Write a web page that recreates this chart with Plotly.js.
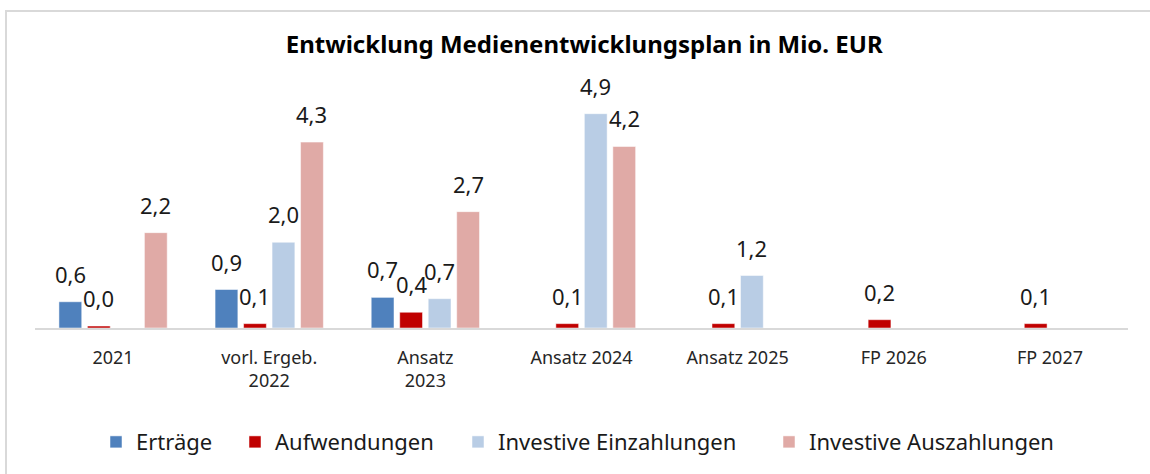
<!DOCTYPE html>
<html>
<head>
<meta charset="utf-8">
<script src="https://cdn.plot.ly/plotly-3.0.1.min.js"></script>
<style>
  html, body { margin: 0; padding: 0; background: #fff; }
  #wrap { position: relative; width: 1150px; height: 474px; overflow: hidden; }
  #chart { position: absolute; left: 0; top: 0; width: 1150px; height: 474px; }
  #frame { position: absolute; left: 5px; top: 10px; width: 1200px; height: 520px;
           border: 2px solid #d9d9d9; pointer-events: none; box-sizing: border-box; }
</style>
</head>
<body>
<div id="wrap">
  <div id="chart"></div>
  <div id="frame"></div>
</div>
<script>
const categories = ["2021", "vorl. Ergeb.<br>2022", "Ansatz<br>2023", "Ansatz 2024", "Ansatz 2025", "FP 2026", "FP 2027"];
const ertraege = [0.6, 0.88, 0.7, null, null, null, null];
const aufwendungen = [0.045, 0.1, 0.36, 0.1, 0.1, 0.19, 0.1];
const invEinzahlungen = [null, 1.96, 0.67, 4.9, 1.2, null, null];
const invAuszahlungen = [2.18, 4.25, 2.66, 4.15, null, null, null];

const seriesNames = ["Erträge", "Aufwendungen", "Investive Einzahlungen", "Investive Auszahlungen"];
const seriesValues = [ertraege, aufwendungen, invEinzahlungen, invAuszahlungen];
const seriesColors = ["#4f81bd", "#c00000", "#b9cde5", "#e0aaa6"];

const BARGAP = 0.27;
const nSeries = seriesValues.length;
const W = 1150;
const M = { l: 35, r: 22, t: 80, b: 145.5 };
const plotW = W - M.l - M.r;
// left edge (px) of each legend entry
const legendLeftPx = [96, 235, 458, 769];

const legendIds = ["legend", "legend2", "legend3", "legend4"];

const traces = seriesValues.map((vals, i) => ({
  type: "bar",
  name: seriesNames[i],
  x: categories,
  y: vals,
  legend: legendIds[i],
  marker: { color: seriesColors[i], line: { color: "#ffffff", width: 0.5 } },
  hoverinfo: "skip"
}));

// value labels placed above each bar via the library's axes
const fmt = v => v.toFixed(1).replace(".", ",");
const annotations = [];
seriesValues.forEach((vals, si) => {
  vals.forEach((v, ci) => {
    if (v === null) return;
    const slot = (1 - BARGAP) / nSeries;
    annotations.push({
      xref: "x", yref: "y",
      x: ci + (si - (nSeries - 1) / 2) * slot,
      y: v,
      text: fmt(Math.round(v * 10) / 10),
      showarrow: false,
      xanchor: "center", yanchor: "bottom",
      yshift: 11,
      font: { family: "Noto Sans, sans-serif", size: 22, color: "#1a1a1a" }
    });
  });
});

const layout = {
  width: W,
  height: 474,
  paper_bgcolor: "#ffffff",
  plot_bgcolor: "#ffffff",
  barmode: "group",
  bargap: BARGAP,
  bargroupgap: 0.2,
  margin: { l: M.l, r: M.r, t: M.t, b: M.b, autoexpand: false },
  title: {
    text: "<b>Entwicklung Medienentwicklungsplan in Mio. EUR</b>",
    font: { family: "Noto Sans, sans-serif", size: 24, color: "#000000" },
    x: 0.508, xanchor: "center",
    y: 0.905, yanchor: "middle"
  },
  xaxis: {
    type: "category",
    showline: true,
    linecolor: "#d9d9d9",
    linewidth: 2,
    ticks: "",
    ticklabelstandoff: 12,
    showgrid: false,
    zeroline: false,
    automargin: false,
    tickfont: { family: "Noto Sans, sans-serif", size: 18, color: "#262626" },
    fixedrange: true
  },
  yaxis: {
    range: [0, 5.67],
    visible: false,
    showgrid: false,
    zeroline: false,
    automargin: false,
    fixedrange: true
  },
  annotations: annotations,
  showlegend: true
};

legendIds.forEach((id, i) => {
  layout[id] = {
    orientation: "h",
    xref: "paper",
    x: (legendLeftPx[i] - M.l) / plotW, xanchor: "left",
    y: -0.46, yanchor: "middle",
    bgcolor: "rgba(0,0,0,0)",
    font: { family: "Noto Sans, sans-serif", size: 22, color: "#1a1a1a" },
    itemwidth: 30
  };
});

Plotly.newPlot("chart", traces, layout, { displayModeBar: false, staticPlot: true });
</script>
</body>
</html>
